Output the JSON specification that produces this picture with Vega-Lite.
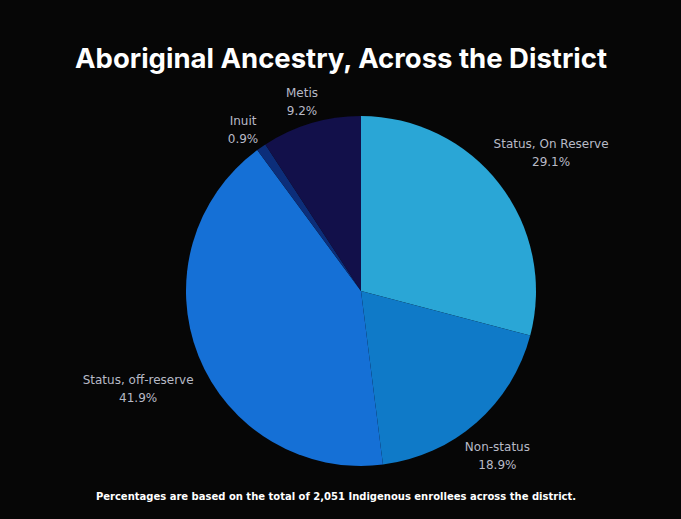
{
  "$schema": "https://vega.github.io/schema/vega-lite/v6.json",
  "width": 600,
  "height": 422,
  "padding": {"left": 61, "right": 20, "top": 46, "bottom": 17},
  "background": "#060606",
  "title": {
    "text": "Aboriginal Ancestry, Across the District",
    "color": "#ffffff",
    "fontSize": 27.5,
    "font": "Inter",
    "fontWeight": 700,
    "anchor": "middle",
    "dx": -20,
    "offset": 6.5
  },
  "config": {"view": {"stroke": null}},
  "data": {
    "values": [
      {"group": "Status, On Reserve", "share": 29.1, "idx": 1},
      {"group": "Non-status", "share": 18.9, "idx": 2},
      {"group": "Status, off-reserve", "share": 41.9, "idx": 3},
      {"group": "Inuit", "share": 0.9, "idx": 4},
      {"group": "Metis", "share": 9.2, "idx": 5}
    ]
  },
  "layer": [
    {
      "mark": {"type": "arc", "outerRadius": 175},
      "encoding": {
        "theta": {"field": "share", "type": "quantitative", "stack": true},
        "order": {"field": "idx", "type": "quantitative"},
        "color": {
          "field": "group",
          "type": "nominal",
          "scale": {
            "domain": ["Status, On Reserve", "Non-status", "Status, off-reserve", "Inuit", "Metis"],
            "range": ["#2aa6d6", "#0f7ac8", "#1570d6", "#0c2e7a", "#12104a"]
          },
          "legend": null
        }
      }
    },
    {
      "transform": [
        {"calculate": "datum.group + '\\n' + format(datum.share, '.1f') + '%'", "as": "label"}
      ],
      "mark": {
        "type": "text",
        "radius": {"expr": "datum.share > 25 ? 240 : 207"},
        "lineBreak": "\n",
        "fontSize": 12,
        "lineHeight": 18,
        "color": "#b8bac6",
        "font": "DejaVu Sans",
        "align": "center",
        "baseline": "middle"
      },
      "encoding": {
        "theta": {"field": "share", "type": "quantitative", "stack": true},
        "order": {"field": "idx", "type": "quantitative"},
        "text": {"field": "label", "type": "nominal"}
      }
    },
    {
      "data": {"values": [{"note": "Percentages are based on the total of 2,051 Indigenous enrollees across the district."}]},
      "mark": {
        "type": "text",
        "x": {"expr": "width / 2 - 25"},
        "y": {"expr": "height - 5"},
        "fontSize": 10,
        "fontWeight": 700,
        "color": "#ffffff",
        "font": "DejaVu Sans",
        "align": "center",
        "baseline": "middle"
      },
      "encoding": {"text": {"field": "note", "type": "nominal"}}
    }
  ]
}
